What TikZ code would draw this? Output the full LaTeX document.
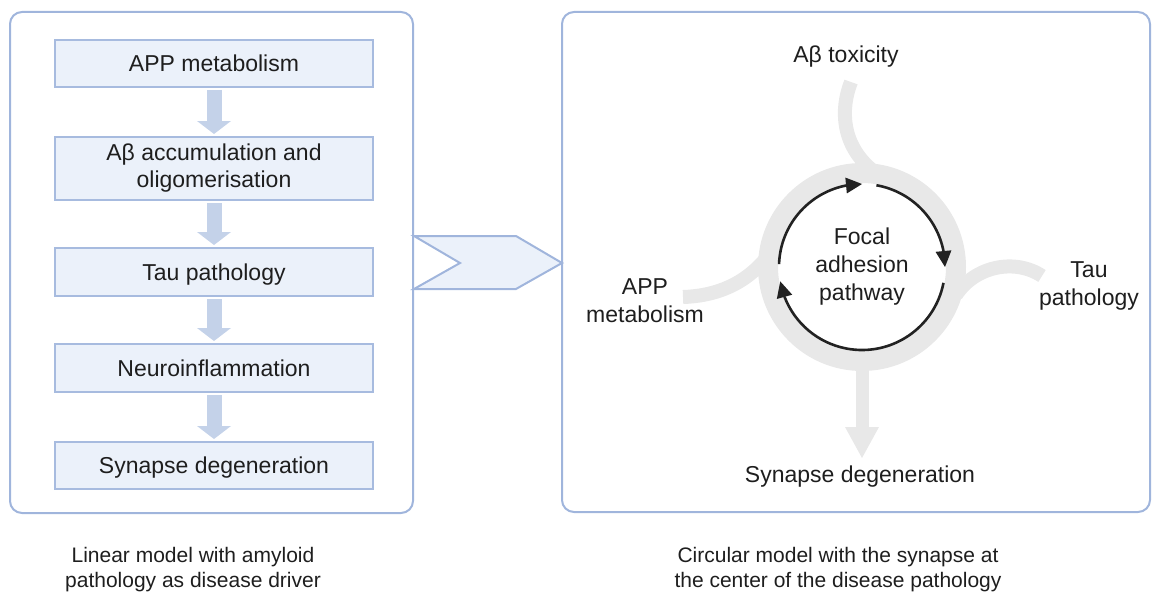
\documentclass[tikz,border=0pt]{standalone}
\usepackage{fontspec}
\setmainfont{Liberation Sans}
\usetikzlibrary{arrows.meta,bending,calc}

\definecolor{panelblue}{HTML}{A0B5DC}
\definecolor{boxfill}{HTML}{EBF1FA}
\definecolor{boxline}{HTML}{A7BBDF}
\definecolor{flowblue}{HTML}{C4D2E9}
\definecolor{ringgray}{HTML}{E8E8E8}
\definecolor{ink}{HTML}{1E1E1E}
\definecolor{cycleink}{HTML}{222222}

\begin{document}
\begin{tikzpicture}[x=1pt,y=-1pt,
  panel/.style={draw=panelblue, line width=2pt, rounded corners=12pt},
  chev/.style={draw=panelblue, fill=boxfill, line width=2pt, line join=miter},
  stagebase/.style={draw=boxline, fill=boxfill, line width=2pt, minimum width=318pt,
    font=\fontsize{23}{27}\selectfont, text=ink, inner sep=0pt},
  stagebox/.style={stagebase, text height=16.5pt, text depth=0pt},
  stagetwo/.style={stagebase, align=center},
  flowarrow/.style={draw=flowblue, line width=15pt,
    -{Triangle[width=34pt,length=13pt,line width=0pt]},
    shorten <=2pt, shorten >=2pt},
  ringnode/.style={circle, draw=ringgray, line width=20pt, minimum size=188pt, inner sep=0pt},
  tendril/.style={draw=ringgray, line width=14pt},
  ringarrow/.style={draw=ringgray, line width=13pt,
    -{Triangle[width=34pt,length=31pt,line width=0pt]}},
  cyc/.style={draw=cycleink, line width=2.6pt,
    -{Triangle[width=16pt,length=16pt,line width=0pt]}},
  lbl/.style={font=\fontsize{23}{28}\selectfont, text=ink, align=center, inner sep=0pt},
  captext/.style={font=\fontsize{21}{25}\selectfont, text=ink, align=center, inner sep=0pt}
]
\useasboundingbox (0,0) rectangle (1152,594);

% two panels
\draw[panel] (10,12) rectangle (413,513);
\draw[panel] (562,12) rectangle (1150,512);

% chevron between the panels
\draw[chev] (414,236) -- (516,236) -- (562,263) -- (516,289) -- (414,289) -- (460,263) -- cycle;

% linear model: stages
\node[stagebox, minimum height=47pt] (s1) at (214,63.5) {APP metabolism};
\node[stagetwo, minimum height=63pt] (s2) at (214,168.5) {Aβ accumulation and\\oligomerisation};
\node[stagebox, minimum height=48pt] (s3) at (214,272) {Tau pathology};
\node[stagebox, minimum height=48pt] (s4) at (214,368) {Neuroinflammation};
\node[stagebox, minimum height=47pt] (s5) at (214,465.5) {Synapse degeneration};

\draw[flowarrow] (s1) -- (s2);
\draw[flowarrow] (s2) -- (s3);
\draw[flowarrow] (s3) -- (s4);
\draw[flowarrow] (s4) -- (s5);

% circular model
\coordinate (abstart) at (851,82);
\coordinate (abjoin) at (872,170);
\coordinate (appstart) at (683,297);
\coordinate (appjoin) at (768,256);
\coordinate (taustart) at (1042,276);
\coordinate (taujoin) at (956,295);
\coordinate (syntip) at (862,458);

\draw[tendril] (abstart) .. controls (840,110) and (842,145) .. (abjoin);
\draw[tendril] (appstart) .. controls (715,296) and (745,285) .. (appjoin);
\draw[tendril] (taujoin) .. controls (975,266) and (1015,258) .. (taustart);

\node[ringnode] (ring) at (862,267) {};
\draw[ringarrow] ($(ring.south)+(0,-4)$) -- (syntip);

% feedback cycle
\draw[cyc] ($(ring.center)+(-178:83)$) arc[start angle=-178, end angle=-90, radius=83];
\draw[cyc] ($(ring.center)+(-80:83)$) arc[start angle=-80, end angle=0, radius=83];
\draw[cyc] ($(ring.center)+(11:83)$) arc[start angle=11, end angle=170, radius=83];

\node[lbl] (fap) at (ring.center) {Focal\\adhesion\\pathway};
\node[lbl, anchor=base] (abtox) at (846,63) {Aβ toxicity};
\node[lbl] (tau) at (1089,285.5) {Tau\\pathology};
\node[lbl] (app) at (645,301) {APP\\metabolism};
\node[lbl, anchor=base] (syn) at (860,482) {Synapse degeneration};

% captions
\node[captext] (lincap) at (193,570) {Linear model with amyloid\\pathology as disease driver};
\node[captext] (circap) at (838,570) {Circular model with the synapse at\\the center of the disease pathology};
\end{tikzpicture}
\end{document}
